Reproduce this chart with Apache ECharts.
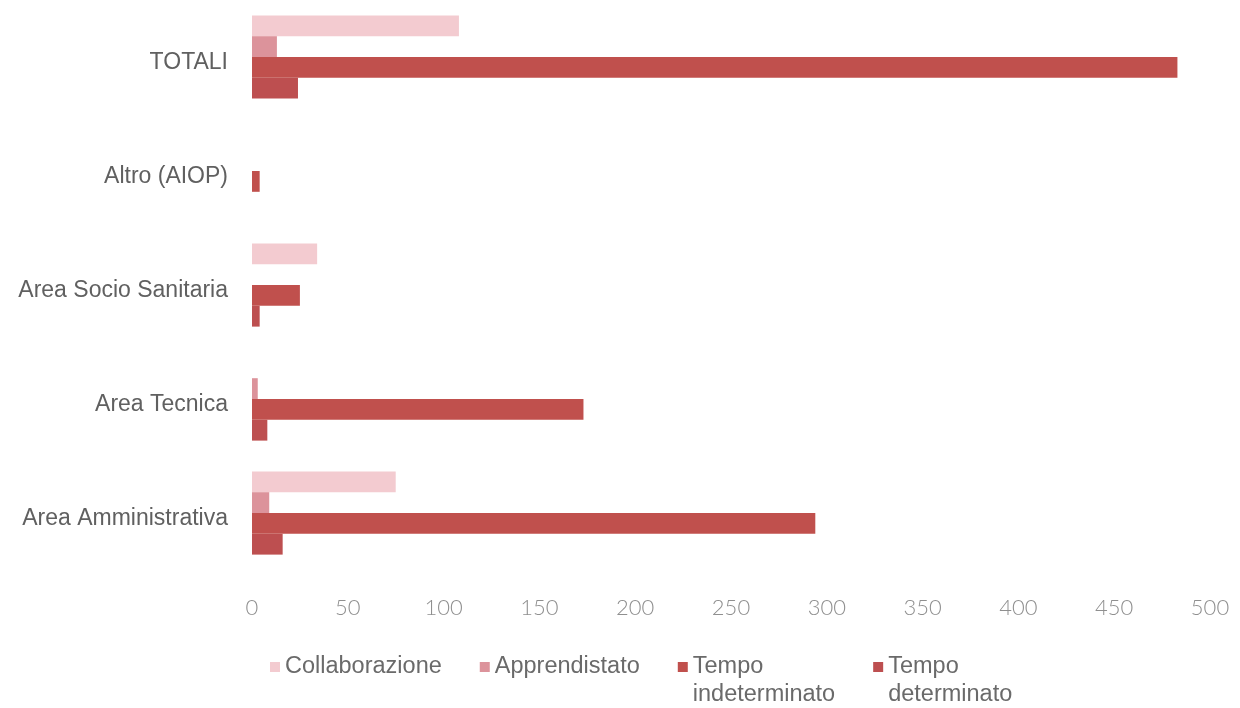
<!DOCTYPE html>
<html>
<head>
<meta charset="utf-8">
<script src="https://cdn.jsdelivr.net/npm/echarts@6/dist/echarts.min.js"></script>
<style>
  html, body { margin: 0; padding: 0; background: #ffffff; }
  #chart { width: 1240px; height: 708px; }
</style>
</head>
<body>
<div id="chart"></div>
<script>
// Categories listed bottom-to-top along the vertical axis
const categories = ['Area Amministrativa', 'Area Tecnica', 'Area Socio Sanitaria', 'Altro (AIOP)', 'TOTALI'];

// Headcount per contract type
const collaborazione = [75, 0, 34, 0, 108];
const apprendistato = [9, 3, 0, 0, 13];
const tempoIndeterminato = [294, 173, 25, 4, 483];
const tempoDeterminato = [16, 8, 4, 0, 24];

const xTicks = { min: 0, max: 500, interval: 50 };

const seriesDefs = [
  { name: 'Collaborazione', data: collaborazione, color: '#f3cbd0' },
  { name: 'Apprendistato', data: apprendistato, color: '#dc939b' },
  { name: 'Tempo indeterminato', data: tempoIndeterminato, color: '#c0504d' },
  { name: 'Tempo determinato', data: tempoDeterminato, color: '#bd4f50' }
];

const chart = echarts.init(document.getElementById('chart'), null, { renderer: 'canvas' });

chart.setOption({
  animation: false,
  backgroundColor: '#ffffff',
  grid: { left: 252, right: 30, top: 0, height: 570, containLabel: false },
  xAxis: {
    type: 'value',
    min: xTicks.min,
    max: xTicks.max,
    interval: xTicks.interval,
    axisLine: { show: false },
    axisTick: { show: false },
    splitLine: { show: false },
    axisLabel: { color: '#8f8f8f', fontSize: 22, fontFamily: 'Lato', fontWeight: 300, margin: 27 }
  },
  yAxis: {
    type: 'category',
    data: categories,
    axisLine: { show: false },
    axisTick: { show: false },
    axisLabel: {
      color: '#606060', fontSize: 23, fontFamily: '"Liberation Sans", Arial, sans-serif',
      margin: 24, verticalAlign: 'top', lineHeight: 12
    }
  },
  legend: {
    left: 265,
    top: 620,
    itemWidth: 10,
    itemHeight: 10,
    itemGap: 38,
    icon: 'rect',
    textStyle: {
      color: '#6a6a6a', fontSize: 23.5, fontFamily: '"Liberation Sans", Arial, sans-serif', lineHeight: 28
    },
    data: ['Collaborazione', 'Apprendistato', 'Tempo indeterminato', 'Tempo determinato'],
    // two-word names wrap; the leading blank line keeps the marker beside the first line
    formatter: function (name) {
      return name.indexOf('Tempo ') === 0 ? '\n' + name.replace('Tempo ', 'Tempo\n') : name;
    }
  },
  series: seriesDefs.map(function (s) {
    return {
      name: s.name,
      type: 'bar',
      data: s.data,
      barGap: '0%',
      barCategoryGap: '27%',
      itemStyle: { color: s.color }
    };
  })
});
</script>
</body>
</html>
